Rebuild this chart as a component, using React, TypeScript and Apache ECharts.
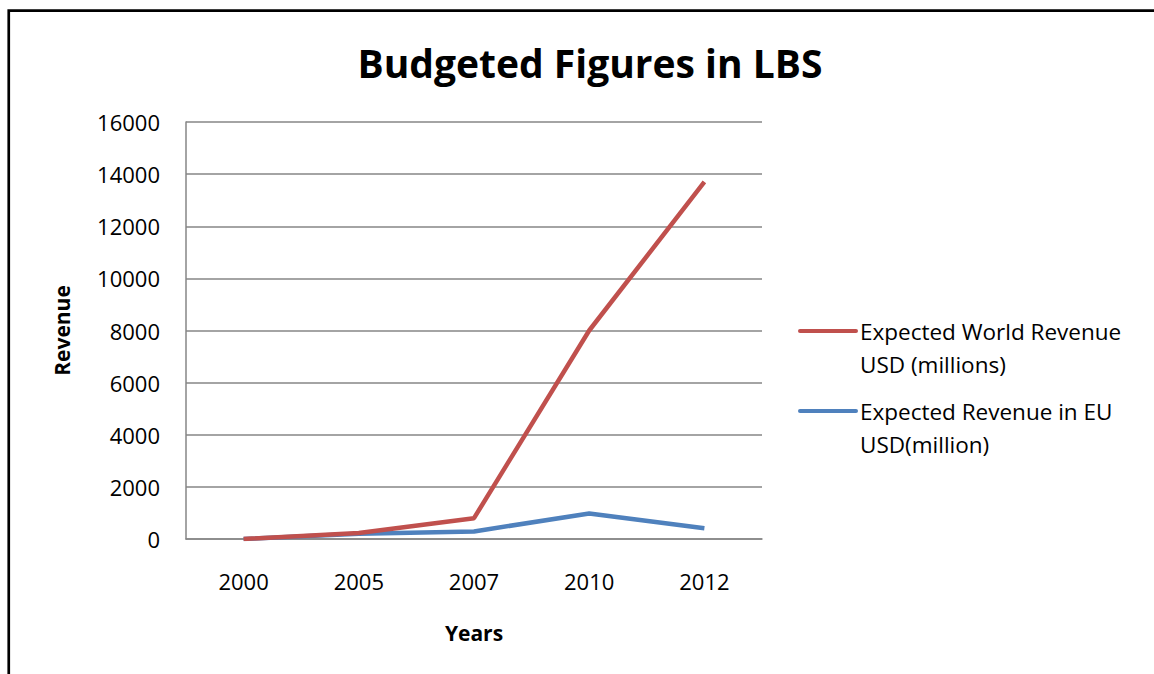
import React, { useEffect, useRef } from "react";
import * as echarts from "echarts";

const years = ["2000", "2005", "2007", "2010", "2012"];
const worldRevenue = [0, 230, 800, 8000, 13700];
const euRevenue = [0, 200, 290, 980, 410];
const seriesNames = ["Expected World Revenue\nUSD (millions)", "Expected Revenue in EU\nUSD(million)"];
const seriesColors = ["#C0504D", "#4F81BD"];
const titleText = "Budgeted Figures in LBS";
const yAxisName = "Revenue";
const xAxisName = "Years";

const FONT = "'Open Sans', 'Noto Sans', sans-serif";

export default function App() {
  const ref = useRef<HTMLDivElement>(null);
  useEffect(() => {
    const chart = echarts.init(ref.current!, null, { renderer: "svg" });
    const legendItems: any[] = [];
    seriesNames.forEach((name, i) => {
      const y = 331 + i * 80;
      legendItems.push({
        type: "line",
        shape: { x1: 800, y1: y, x2: 856, y2: y },
        style: { stroke: seriesColors[i], lineWidth: 4, lineCap: "round" },
      });
      legendItems.push({
        type: "text",
        x: 860,
        y: y - 16.5,
        style: {
          text: name,
          fontFamily: FONT,
          fontSize: 22.5,
          lineHeight: 33,
          fill: "#000",
          textVerticalAlign: "top",
        },
      });
    });
    chart.setOption({
      animation: false,
      backgroundColor: "#fff",
      title: {
        text: titleText,
        left: 585,
        top: 38,
        textAlign: "center",
        textStyle: { fontFamily: FONT, fontSize: 39, fontWeight: "bold", color: "#000" },
      },
      grid: { left: 186, right: 392, top: 122, bottom: 135 },
      xAxis: {
        type: "category",
        data: years,
        boundaryGap: true,
        axisLine: { lineStyle: { color: "#868686", width: 1.5 } },
        axisTick: { show: false },
        axisLabel: { color: "#000", fontFamily: FONT, fontSize: 22, margin: 31 },
        name: xAxisName,
        nameLocation: "middle",
        nameGap: 83,
        nameTextStyle: { color: "#000", fontFamily: FONT, fontSize: 21, fontWeight: "bold" },
      },
      yAxis: {
        type: "value",
        min: 0,
        max: 16000,
        interval: 2000,
        axisLine: { show: true, lineStyle: { color: "#868686", width: 1.5 } },
        axisTick: { show: false },
        splitLine: { lineStyle: { color: "#868686", width: 1.5 } },
        axisLabel: {
          color: "#000",
          fontFamily: FONT,
          fontSize: 22,
          margin: 26,
          formatter: (v: number) => String(v),
        },
        name: yAxisName,
        nameLocation: "middle",
        nameGap: 114,
        nameRotate: 90,
        nameTextStyle: { color: "#000", fontFamily: FONT, fontSize: 21, fontWeight: "bold" },
      },
      series: [
        {
          name: seriesNames[1],
          type: "line",
          data: euRevenue,
          symbol: "none",
          lineStyle: { color: seriesColors[1], width: 4.5 },
          itemStyle: { color: seriesColors[1] },
        },
        {
          name: seriesNames[0],
          type: "line",
          data: worldRevenue,
          symbol: "none",
          lineStyle: { color: seriesColors[0], width: 4.5 },
          itemStyle: { color: seriesColors[0] },
        },
      ],
      graphic: [
        {
          type: "rect",
          shape: { x: 8.75, y: 10.6, width: 1300, height: 800 },
          style: { fill: "none", stroke: "#000", lineWidth: 2.7 },
          silent: true,
        },
        ...legendItems,
      ],
    });
    return () => chart.dispose();
  }, []);
  return (
    <div
      ref={ref}
      style={{ position: "fixed", left: 0, top: 0, width: 1154, height: 674, background: "#fff" }}
    />
  );
}
